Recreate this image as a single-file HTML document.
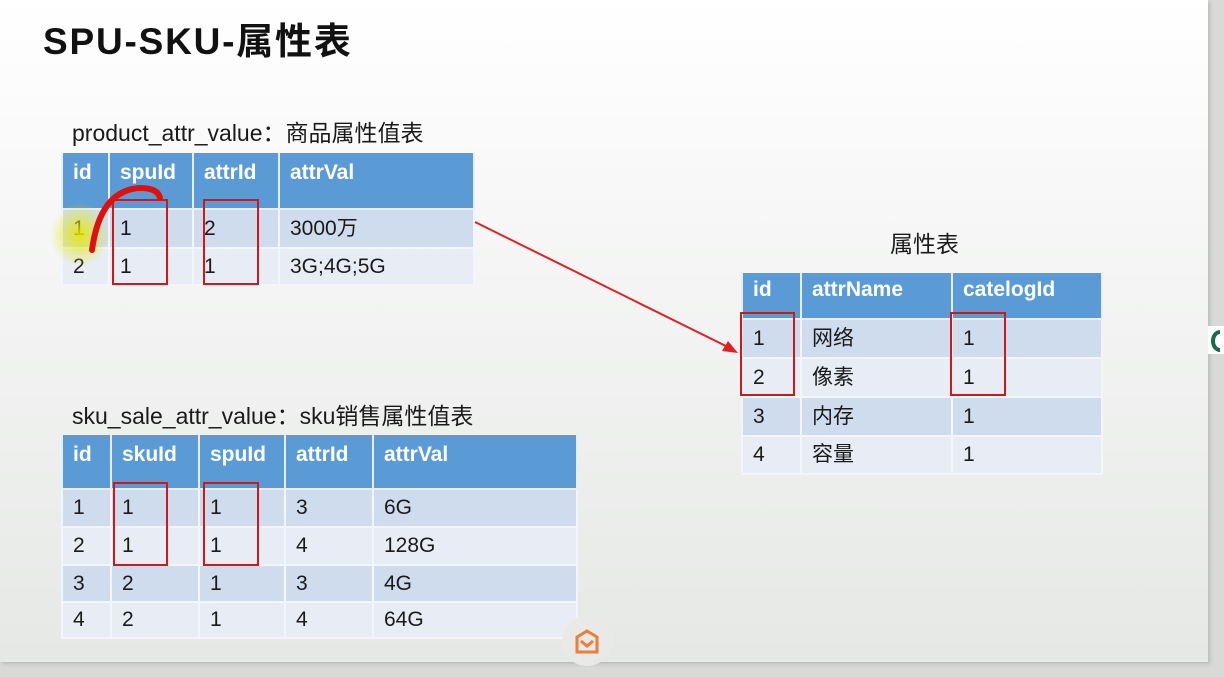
<!DOCTYPE html>
<html><head><meta charset="utf-8"><style>
body{margin:0;width:1224px;height:677px;background:#d9dad8;position:relative;overflow:hidden;font-family:"Liberation Sans","Noto Sans CJK SC",sans-serif;}
.slide{position:absolute;left:0;top:0;width:1208px;height:662px;background:linear-gradient(180deg,#ffffff 0%,#f4f5f4 40%,#e6e8e6 100%);box-shadow:2px 2px 4px rgba(0,0,0,.15);}
table{position:absolute;border-collapse:collapse;table-layout:fixed;font-size:21px;color:#1a1a1a;line-height:22px;}
td{padding:0 0 0 10px;border:2px solid #f2f5f9;white-space:nowrap;vertical-align:middle;}
th{background:#5b9bd5;color:#fff;font-weight:bold;text-align:left;vertical-align:top;padding:9px 0 0 10px;border:2px solid #e8eef5;border-top:none;}
tr.a td{background:#cfdcee;}
tr.b td{background:#e8edf5;}
.lbl{position:absolute;font-size:23px;line-height:26px;color:#1a1a1a;white-space:nowrap;}
.box{position:absolute;border:2.5px solid #d01818;}
</style></head><body>
<div class="slide"></div>
<div style="position:absolute;left:43px;top:20px;font-size:37px;line-height:44px;font-weight:bold;color:#111;letter-spacing:1.8px;">SPU-SKU-属性表</div>

<div class="lbl" style="left:72px;top:120px;">product_attr_value：商品属性值表</div>
<table style="left:61px;top:153px;width:412px;">
<colgroup><col style="width:47px"><col style="width:84px"><col style="width:86px"><col style="width:195px"></colgroup>
<tr style="height:56px"><th>id</th><th>spuId</th><th>attrId</th><th>attrVal</th></tr>
<tr class="a" style="height:39px"><td>1</td><td>1</td><td>2</td><td>3000万</td></tr>
<tr class="b" style="height:37px"><td>2</td><td>1</td><td>1</td><td>3G;4G;5G</td></tr>
</table>

<div class="lbl" style="left:72px;top:403px;">sku_sale_attr_value：sku销售属性值表</div>
<table style="left:61px;top:435px;width:515px;">
<colgroup><col style="width:49px"><col style="width:88px"><col style="width:86px"><col style="width:88px"><col style="width:204px"></colgroup>
<tr style="height:54px"><th>id</th><th>skuId</th><th>spuId</th><th>attrId</th><th>attrVal</th></tr>
<tr class="a" style="height:38px"><td>1</td><td>1</td><td>1</td><td>3</td><td>6G</td></tr>
<tr class="b" style="height:38px"><td>2</td><td>1</td><td>1</td><td>4</td><td>128G</td></tr>
<tr class="a" style="height:37px"><td>3</td><td>2</td><td>1</td><td>3</td><td>4G</td></tr>
<tr class="b" style="height:36px"><td>4</td><td>2</td><td>1</td><td>4</td><td>64G</td></tr>
</table>

<div class="lbl" style="left:890px;top:231px;">属性表</div>
<table style="left:741px;top:273px;width:360px;">
<colgroup><col style="width:59px"><col style="width:151px"><col style="width:150px"></colgroup>
<tr style="height:46px"><th style="padding-top:6px">id</th><th style="padding-top:6px">attrName</th><th style="padding-top:6px">catelogId</th></tr>
<tr class="a" style="height:39px"><td>1</td><td>网络</td><td>1</td></tr>
<tr class="b" style="height:39px"><td>2</td><td>像素</td><td>1</td></tr>
<tr class="a" style="height:39px"><td>3</td><td>内存</td><td>1</td></tr>
<tr class="b" style="height:38px"><td>4</td><td>容量</td><td>1</td></tr>
</table>

<div class="box" style="left:112px;top:199px;width:52px;height:82px;"></div>
<div class="box" style="left:203px;top:199px;width:52px;height:82px;"></div>
<div class="box" style="left:113px;top:482px;width:51px;height:80px;"></div>
<div class="box" style="left:203px;top:482px;width:52px;height:80px;"></div>
<div class="box" style="left:740px;top:312px;width:51px;height:80px;"></div>
<div class="box" style="left:950px;top:312px;width:52px;height:80px;"></div>

<svg style="position:absolute;left:0;top:0" width="1224" height="677">
<defs><radialGradient id="y"><stop offset="0" stop-color="#e8e800" stop-opacity=".9"/><stop offset="1" stop-color="#e8e800" stop-opacity="0"/></radialGradient></defs>
<ellipse cx="80" cy="235" rx="30" ry="32" fill="url(#y)"/>
<path d="M92 250 Q100 190 140 188 Q158 188 160 198" stroke="#e01010" stroke-width="6" fill="none" stroke-linecap="round"/>
<line x1="475" y1="222" x2="734" y2="350" stroke="#e02020" stroke-width="2"/>
<polygon points="738,353 722,351 728,341" fill="#e02020"/>
<circle cx="587" cy="641" r="25" fill="#e9e9e7"/>
<path d="M577 637 L587 631 L597 637 L597 652 L577 652 Z M581 641 L587 646 L593 641" stroke="#e8803a" stroke-width="3" fill="none"/>
<rect x="1208" y="326" width="16" height="28" fill="#fff"/>
<path d="M1220 332 A7 9 0 0 0 1220 350" stroke="#1a6a4a" stroke-width="4" fill="none"/>
</svg>
</body></html>
